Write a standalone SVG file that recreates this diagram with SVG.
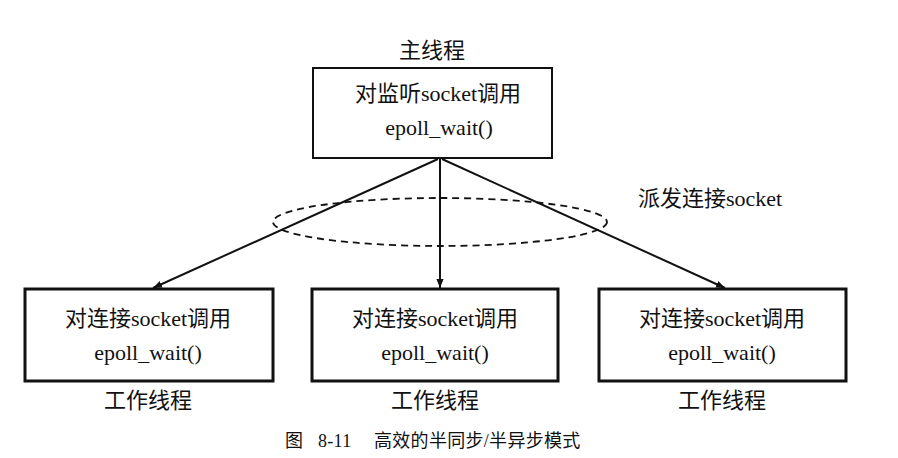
<svg xmlns="http://www.w3.org/2000/svg" width="898" height="458" viewBox="0 0 898 458">
<style>
.t{font-family:"Liberation Serif","Times New Roman","DejaVu Serif","Noto Sans CJK SC",serif;font-size:22px;fill:#111;text-anchor:middle}
.box{fill:#fff;stroke:#111;stroke-width:2}
.wbox{fill:#fff;stroke:#111;stroke-width:3}
.cap{font-family:"Liberation Serif","Noto Sans CJK SC",serif;font-size:18px;fill:#111;letter-spacing:0.3px}
</style>
<defs>
<marker id="ah" viewBox="0 0 10 10" refX="10" refY="5" markerWidth="9" markerHeight="9" markerUnits="userSpaceOnUse" orient="auto">
<path d="M0,1 L10,5 L0,9 Z" fill="#111"/>
</marker>
</defs>
<rect width="898" height="458" fill="#fff"/>
<g id="connectors" stroke="#111" stroke-width="2" fill="none">
<line x1="438" y1="159" x2="153" y2="288" marker-end="url(#ah)"/>
<line x1="440" y1="159" x2="440" y2="288" marker-end="url(#ah)"/>
<line x1="442" y1="159" x2="725" y2="288" marker-end="url(#ah)"/>
<ellipse cx="440" cy="222" rx="167" ry="24" stroke-width="1.8" stroke-dasharray="7,5"/>
</g>
<g id="main">
<text class="t" x="432" y="58">主线程</text>
<rect class="box" x="313" y="68" width="239" height="90"/>
<text class="t" x="438" y="101">对监听socket调用</text>
<text class="t" x="439" y="135">epoll_wait()</text>
</g>
<text id="label" class="t" x="710" y="206">派发连接socket</text>
<g id="worker1">
<rect class="wbox" x="25" y="289" width="248" height="92"/>
<text class="t" x="148" y="326">对连接socket调用</text>
<text class="t" x="148" y="360">epoll_wait()</text>
<text class="t" x="148" y="408">工作线程</text>
</g>
<g id="worker2">
<rect class="wbox" x="312" y="289" width="246" height="92"/>
<text class="t" x="435" y="326">对连接socket调用</text>
<text class="t" x="435" y="360">epoll_wait()</text>
<text class="t" x="435" y="408">工作线程</text>
</g>
<g id="worker3">
<rect class="wbox" x="599" y="289" width="247" height="92"/>
<text class="t" x="722" y="326">对连接socket调用</text>
<text class="t" x="722" y="360">epoll_wait()</text>
<text class="t" x="722" y="408">工作线程</text>
</g>
<g id="caption">
<text class="cap" x="285" y="447">图</text>
<text class="cap" x="318" y="447">8-11</text>
<text class="cap" x="374" y="447">高效的半同步/半异步模式</text>
</g>
</svg>
